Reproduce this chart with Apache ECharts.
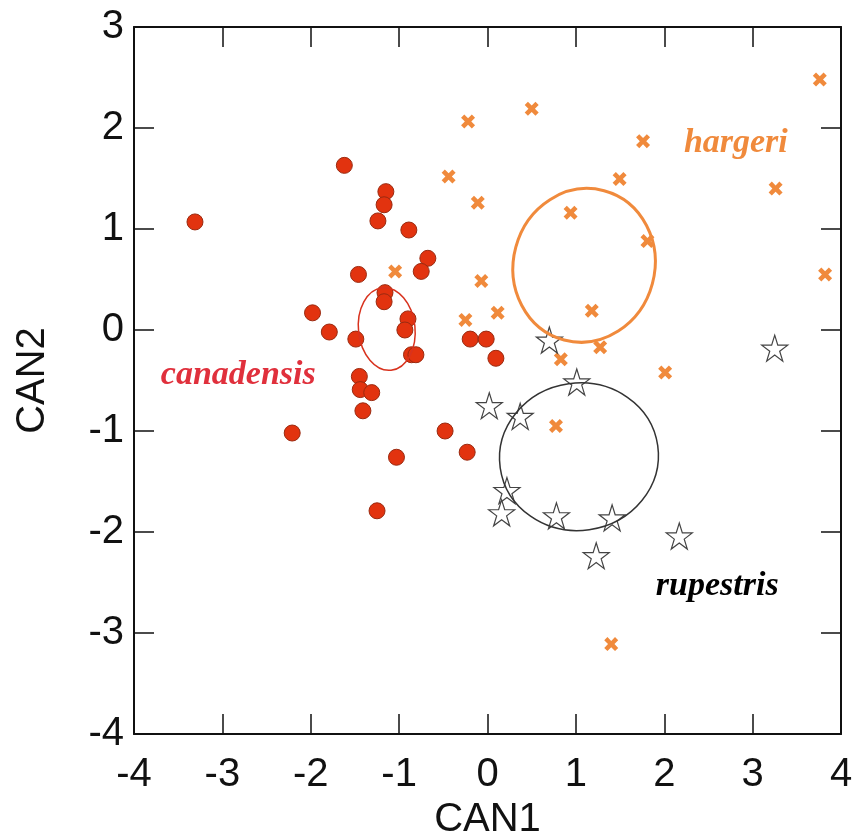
<!DOCTYPE html>
<html>
<head>
<meta charset="utf-8">
<title>CAN1 vs CAN2</title>
<script src="https://cdn.jsdelivr.net/npm/echarts@6/dist/echarts.min.js"></script>
<style>
  html, body { margin: 0; padding: 0; background: #fff; }
  #chart { width: 852px; height: 839px; }
</style>
</head>
<body>
<div id="chart"></div>
<script>
// axis ticks
var xTicks = [-4, -3, -2, -1, 0, 1, 2, 3, 4];
var yTicks = [-4, -3, -2, -1, 0, 1, 2, 3];

// canonical scores [CAN1, CAN2]
var canadensis = [
  [-1.62, 1.63], [-3.31, 1.07], [-1.15, 1.37], [-1.17, 1.24], [-1.24, 1.08],
  [-0.89, 0.99], [-0.675, 0.71], [-0.75, 0.58], [-1.46, 0.55], [-1.16, 0.37],
  [-1.17, 0.28], [-1.98, 0.17], [-0.90, 0.11], [-0.935, 0.00], [-1.79, -0.02],
  [-1.49, -0.09], [-0.86, -0.245], [-0.81, -0.245], [-0.196, -0.09], [-0.015, -0.09],
  [0.095, -0.28], [-1.45, -0.46], [-1.44, -0.59], [-1.31, -0.62], [-1.41, -0.80],
  [-2.21, -1.02], [-0.48, -1.00], [-0.23, -1.21], [-1.03, -1.26], [-1.25, -1.79]
];
var hargeri = [
  [-0.22, 2.065], [0.50, 2.19], [3.76, 2.48], [1.76, 1.87], [-0.44, 1.52],
  [1.495, 1.495], [3.26, 1.40], [-0.11, 1.26], [0.94, 1.16], [1.81, 0.88],
  [3.82, 0.55], [-0.07, 0.485], [1.18, 0.19], [0.115, 0.17], [-0.25, 0.10],
  [1.275, -0.17], [0.83, -0.29], [2.01, -0.42], [-1.045, 0.58], [0.775, -0.95],
  [1.40, -3.11]
];
var rupestris = [
  [0.70, -0.10], [3.25, -0.18], [1.01, -0.515], [0.02, -0.75], [0.37, -0.855],
  [0.22, -1.59], [0.16, -1.81], [0.78, -1.84], [1.41, -1.86], [2.17, -2.04],
  [1.23, -2.235]
];

// group ellipses: [centre CAN1, centre CAN2, half-width, half-height, tilt deg]
var canadensisEllipse = [[-1.14, 0.01, 0.32, 0.41, 6]];
var hargeriEllipse = [[1.093, 0.64, 0.80, 0.765, -15]];
var rupestrisEllipse = [[1.035, -1.255, 0.90, 0.73, 8]];

// species names and where they sit
var groupNames = ['canadensis', 'hargeri', 'rupestris'];
var namePos = [[-2.82, -0.45], [2.81, 1.85], [2.60, -2.54]];

var RED = '#e2330f';
var ORANGE = '#f08a3c';
var nameColors = ['#e0303c', ORANGE, '#000'];
var starPath = 'path://M10,0 L12.245,6.91 L19.511,6.91 L13.633,11.18 L15.878,18.09 L10,13.82 L4.122,18.09 L6.367,11.18 L0.489,6.91 L7.755,6.91 Z';
var crossPath = 'path://M0,2.3 L2.3,0 L5,2.7 L7.7,0 L10,2.3 L7.3,5 L10,7.7 L7.7,10 L5,7.3 L2.3,10 L0,7.7 L2.7,5 Z';

var myChart = echarts.init(document.getElementById('chart'));

function ellipseSeries(data, color, width) {
  return {
    type: 'custom',
    data: data,
    z: 5,
    silent: true,
    renderItem: function (params, api) {
      var c = api.coord([api.value(0), api.value(1)]);
      var s = api.size([api.value(2), api.value(3)]);
      return {
        type: 'ellipse',
        x: c[0],
        y: c[1],
        rotation: api.value(4) * Math.PI / 180,
        shape: { cx: 0, cy: 0, rx: s[0], ry: s[1] },
        style: { fill: 'none', stroke: color, lineWidth: width }
      };
    }
  };
}

var tickFont = { fontFamily: 'Liberation Sans, Arial', fontSize: 40, color: '#111' };
var lineStyle = { color: '#111', width: 2 };

function axisCommon(min, max) {
  return {
    type: 'value',
    min: min,
    max: max,
    interval: 1,
    splitLine: { show: false },
    axisLine: { show: true, onZero: false, lineStyle: lineStyle },
    axisTick: { show: true, inside: true, length: 20, lineStyle: { color: '#111', width: 1.5 } }
  };
}

var option = {
  animation: false,
  backgroundColor: '#fff',
  grid: { left: 134, top: 27, width: 707, height: 707, outerBoundsMode: 'none', containLabel: false },
  xAxis: [
    Object.assign(axisCommon(xTicks[0], xTicks[xTicks.length - 1]), {
      position: 'bottom',
      name: 'CAN1',
      nameLocation: 'middle',
      nameGap: 66,
      nameTextStyle: tickFont,
      axisLabel: Object.assign({ margin: 21 }, tickFont)
    }),
    Object.assign(axisCommon(xTicks[0], xTicks[xTicks.length - 1]), {
      position: 'top',
      axisLabel: { show: false }
    })
  ],
  yAxis: [
    Object.assign(axisCommon(yTicks[0], yTicks[yTicks.length - 1]), {
      position: 'left',
      name: 'CAN2',
      nameLocation: 'middle',
      nameGap: 81,
      nameTextStyle: tickFont,
      axisLabel: Object.assign({ margin: 10 }, tickFont)
    }),
    Object.assign(axisCommon(yTicks[0], yTicks[yTicks.length - 1]), {
      position: 'right',
      axisLabel: { show: false }
    })
  ],
  series: [
    {
      name: 'canadensis',
      type: 'scatter',
      data: canadensis,
      symbol: 'circle',
      symbolSize: 16,
      itemStyle: { color: RED, borderColor: '#9a2a10', borderWidth: 1, opacity: 1 }
    },
    {
      name: 'hargeri',
      type: 'scatter',
      data: hargeri,
      symbol: crossPath,
      symbolSize: 14,
      itemStyle: { color: ORANGE, opacity: 1 }
    },
    {
      name: 'rupestris',
      type: 'scatter',
      data: rupestris,
      symbol: starPath,
      symbolSize: 26,
      itemStyle: { color: '#fff', borderColor: '#444', borderWidth: 1.2, opacity: 1 }
    },
    ellipseSeries(canadensisEllipse, '#d8321e', 1.5),
    ellipseSeries(hargeriEllipse, ORANGE, 3),
    ellipseSeries(rupestrisEllipse, '#333', 1.5),
    {
      type: 'scatter',
      silent: true,
      symbolSize: 0,
      z: 6,
      itemStyle: { opacity: 1 },
      data: groupNames.map(function (n, i) {
        return { name: n, value: namePos[i], label: { color: nameColors[i] } };
      }),
      label: {
        show: true,
        position: 'inside',
        formatter: '{b}',
        fontFamily: 'Liberation Serif, Times New Roman',
        fontStyle: 'italic',
        fontWeight: 'bold',
        fontSize: 34
      }
    }
  ]
};

myChart.setOption(option);
</script>
</body>
</html>
